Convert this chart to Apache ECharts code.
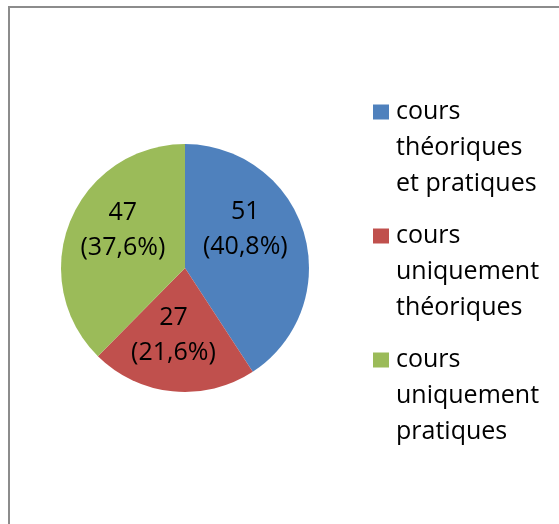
<!DOCTYPE html>
<html>
<head>
<meta charset="utf-8">
<script src="https://cdn.jsdelivr.net/npm/echarts@6/dist/echarts.min.js"></script>
<style>
  html, body { margin: 0; padding: 0; background: #fff; overflow: hidden; }
  .frame {
    position: absolute; left: 8px; top: 6px; width: 600px; height: 600px;
    border-left: 2px solid #8c8c8c; border-top: 2px solid #8c8c8c;
  }
  #chart { position: absolute; left: 0; top: 0; width: 559px; height: 524px; }
</style>
</head>
<body>
<div class="frame"></div>
<div id="chart"></div>
<script>
// catégories et valeurs
const categories = [
  "cours\nthéoriques\net pratiques",
  "cours\nuniquement\nthéoriques",
  "cours\nuniquement\npratiques"
];
const values = [51, 27, 47];
const colors = ["#4f81bd", "#c0504d", "#9bbb59"];
// décalage des étiquettes (comme Excel les place)
const labelShift = [[-2, -20], [-5, 3], [-2, -13]];

const chart = echarts.init(document.getElementById("chart"));

const option = {
  animation: false,
  color: colors,
  legend: {
    orient: "vertical",
    left: 373,
    top: 22,
    padding: 0,
    itemWidth: 16,
    itemHeight: 15,
    itemGap: -56,
    icon: "rect",
    selectedMode: false,
    // deux lignes vides devant : le carré reste en face de la 1re ligne
    formatter: (name) => "\n\n" + name,
    textStyle: {
      fontFamily: "Open Sans",
      fontSize: 25,
      lineHeight: 36,
      color: "#000",
      padding: [0, 0, 0, 2]
    },
    data: categories
  },
  series: [
    {
      type: "pie",
      center: [185, 268],
      radius: 124,
      startAngle: 90,
      clockwise: true,
      silent: true,
      label: {
        position: "inside",
        fontFamily: "Open Sans",
        fontSize: 25,
        lineHeight: 35,
        color: "#000",
        formatter: (p) => p.value + "\n(" + p.percent.toFixed(1).replace(".", ",") + "%)"
      },
      labelLine: { show: false },
      labelLayout: (p) => ({ dx: labelShift[p.dataIndex][0], dy: labelShift[p.dataIndex][1] }),
      data: categories.map((name, i) => ({ name: name, value: values[i] }))
    }
  ]
};

chart.setOption(option);
</script>
</body>
</html>
